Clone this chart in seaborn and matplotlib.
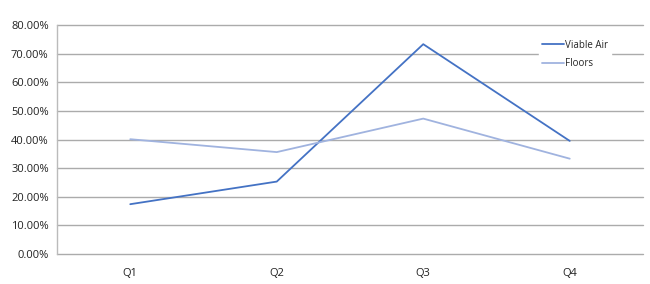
import matplotlib
matplotlib.use("Agg")
import matplotlib.pyplot as plt
import seaborn as sns
import pandas as pd
from matplotlib.ticker import FuncFormatter

quarters = ["Q1", "Q2", "Q3", "Q4"]
viable_air = [17.4, 25.3, 73.3, 39.5]
floors = [40.1, 35.6, 47.3, 33.3]

df = pd.DataFrame({
    "Quarter": quarters * 2,
    "Value": viable_air + floors,
    "Series": ["Viable Air"] * 4 + ["Floors"] * 4,
})

sns.set_theme(style="white")
plt.rcParams['font.family'] = ['Open Sans', 'DejaVu Sans']

fig = plt.figure(figsize=(6.5, 2.84), dpi=100)
ax = fig.add_axes([57/650, 1 - 254/284, 586/650, 229/284])

sns.lineplot(data=df, x="Quarter", y="Value", hue="Series",
             palette={"Viable Air": "#4472C4", "Floors": "#A0B3DF"},
             linewidth=1.3, ax=ax, sort=False)

ax.set_xlim(-0.5, 3.5)
ax.set_ylim(0, 80)
ax.set_yticks(range(0, 81, 10))
ax.yaxis.set_major_formatter(FuncFormatter(lambda v, p: f"{v:.2f}%"))
ax.grid(axis="y", color="#ABABAB", linewidth=1.0)
for gl in ax.get_ygridlines():
    gl.set_clip_on(False)
ax.set_axisbelow(True)
for s in ["top", "right", "bottom"]:
    ax.spines[s].set_visible(False)
ax.spines["left"].set_color("#BBBBBB")
ax.spines["left"].set_linewidth(1.0)
ax.tick_params(axis="both", length=0, labelsize=8, colors="#222222", pad=6)
ax.tick_params(axis="x", pad=10)
ax.set_xlabel("")
ax.set_ylabel("")

leg = ax.legend(loc="upper left", bbox_to_anchor=(0.815, 0.97), frameon=True,
                fontsize=7, handlelength=2.2, handletextpad=0.1,
                labelspacing=0.75, borderpad=0.3)
leg.get_frame().set_facecolor("white")
leg.get_frame().set_edgecolor("white")
leg.get_frame().set_alpha(1)

fig.savefig("out.png", dpi=100, facecolor="white")
